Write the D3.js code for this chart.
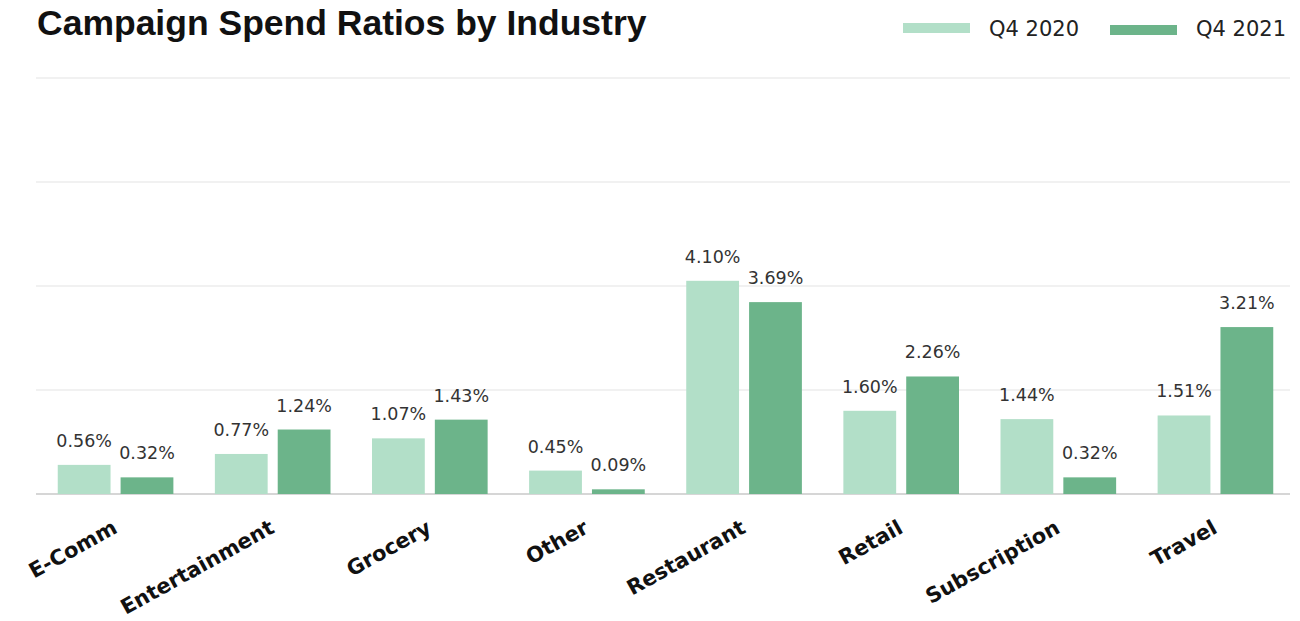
<!DOCTYPE html>
<html><head><meta charset="utf-8">
<script src="https://cdn.jsdelivr.net/npm/d3@7"></script>
<style>
body{margin:0;background:#fff;}
svg{display:block;font-family:"DejaVu Sans",sans-serif;}
</style></head>
<body>
<svg id="chart" width="1300" height="621"></svg>
<script>
const categories = ["E-Comm","Entertainment","Grocery","Other","Restaurant","Retail","Subscription","Travel"];
const seriesNames = ["Q4 2020","Q4 2021"];
const q4_2020 = [0.56,0.77,1.07,0.45,4.10,1.60,1.44,1.51];
const q4_2021 = [0.32,1.24,1.43,0.09,3.69,2.26,0.32,3.21];
const gridTicks = [0,2,4,6,8];
const colors = ["#b2dfc8","#6cb48a"];

const svg = d3.select("#chart");
const y = d3.scaleLinear().domain([0,8]).range([494,78]);
const x0 = d3.scaleBand().domain(categories).range([37,1294]).padding(0);
const x1 = d3.scaleBand().domain(seriesNames).range([0,x0.bandwidth()]).paddingInner(0.16).paddingOuter(0.33);
const color = d3.scaleOrdinal().domain(seriesNames).range(colors);

// gridlines
svg.append("g").selectAll("line").data(gridTicks).join("line")
  .attr("x1",36).attr("x2",1290)
  .attr("y1",d=>y(d)).attr("y2",d=>y(d))
  .attr("stroke",d=>d===0?"#d6d6d6":"#ececec").attr("stroke-width",d=>d===0?2:1.5);

// title
svg.append("text").attr("x",37).attr("y",35).attr("font-size",35.5).attr("font-weight","bold")
  .attr("font-family","'Liberation Sans',Arial,sans-serif")
  .attr("fill","#111").text("Campaign Spend Ratios by Industry");

// legend
const legendX = [903,1110];
seriesNames.forEach((s,i)=>{
  svg.append("rect").attr("x",legendX[i]).attr("y",i===0?23:25).attr("width",67).attr("height",10).attr("fill",colors[i]);
  svg.append("text").attr("x",legendX[i]+86).attr("y",36).attr("font-size",21).attr("fill","#222").text(s);
});

const data = categories.map((c,i)=>({cat:c, vals:[{s:seriesNames[0],v:q4_2020[i]},{s:seriesNames[1],v:q4_2021[i]}]}));

const groups = svg.append("g").selectAll("g").data(data).join("g")
  .attr("transform",d=>`translate(${x0(d.cat)},0)`);

groups.selectAll("rect").data(d=>d.vals).join("rect")
  .attr("x",d=>x1(d.s)).attr("width",x1.bandwidth())
  .attr("y",d=>y(d.v)).attr("height",d=>y(0)-y(d.v))
  .attr("fill",d=>color(d.s));

groups.selectAll("text.val").data(d=>d.vals).join("text").attr("class","val")
  .attr("x",d=>x1(d.s)+x1.bandwidth()/2).attr("y",d=>y(d.v)-18)
  .attr("text-anchor","middle").attr("font-size",17.5).attr("fill","#333")
  .text(d=>d.v.toFixed(2)+"%");

// x labels
svg.append("g").selectAll("text").data(categories).join("text")
  .attr("transform",d=>`translate(${x0(d)+x0.bandwidth()/2+3},532) rotate(-29)`)
  .attr("text-anchor","end").attr("font-size",21).attr("font-weight","bold").attr("fill","#111")
  .text(d=>d);
</script>
</body></html>
